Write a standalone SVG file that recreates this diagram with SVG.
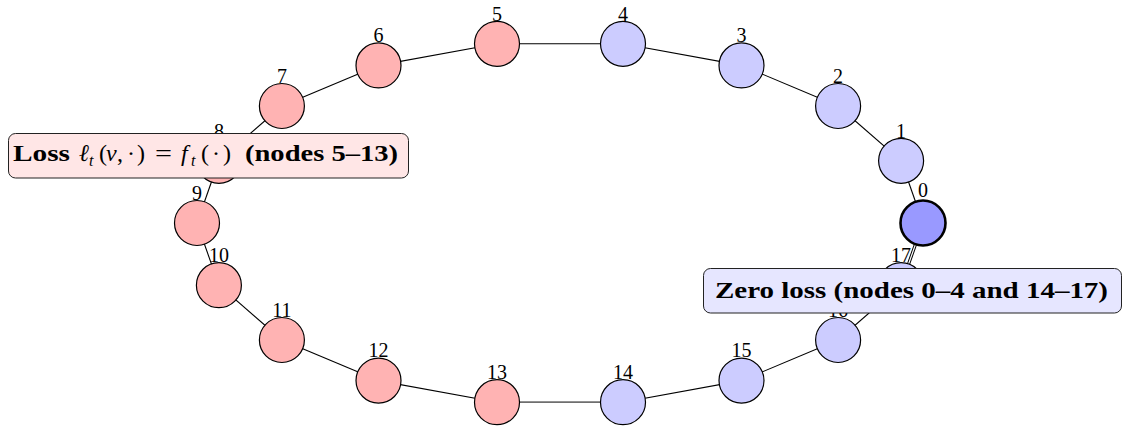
<svg xmlns="http://www.w3.org/2000/svg" width="1127" height="426" viewBox="0 0 1127 426">
<style>
.e{stroke:#000;stroke-width:1.1;fill:none}
.r{fill:#ffb3b3;stroke:#000;stroke-width:1.2}
.b{fill:#ccccff;stroke:#000;stroke-width:1.2}
.lb{font-family:"Liberation Serif","DejaVu Serif",serif;font-size:20px;text-anchor:middle;fill:#000}
.bx{font-family:"Liberation Serif","DejaVu Serif",serif;font-size:24px;fill:#000}
.bd{font-weight:bold}
.it{font-style:italic}
.sb{font-size:16px;font-style:italic}
</style>
<rect width="1127" height="426" fill="#fff"/>
<g id="edges">
<line class="e" x1="923" y1="223" x2="901.1" y2="160.8"/>
<line class="e" x1="901.1" y1="160.8" x2="838.1" y2="106"/>
<line class="e" x1="838.1" y1="106" x2="741.5" y2="65.4"/>
<line class="e" x1="741.5" y1="65.4" x2="623" y2="43.8"/>
<line class="e" x1="623" y1="43.8" x2="497" y2="43.8"/>
<line class="e" x1="497" y1="43.8" x2="378.5" y2="65.4"/>
<line class="e" x1="378.5" y1="65.4" x2="281.9" y2="106"/>
<line class="e" x1="281.9" y1="106" x2="218.9" y2="160.8"/>
<line class="e" x1="218.9" y1="160.8" x2="197" y2="223"/>
<line class="e" x1="197" y1="223" x2="218.9" y2="285.2"/>
<line class="e" x1="218.9" y1="285.2" x2="281.9" y2="340"/>
<line class="e" x1="281.9" y1="340" x2="378.5" y2="380.6"/>
<line class="e" x1="378.5" y1="380.6" x2="497" y2="402.2"/>
<line x1="497" y1="402.2" x2="623" y2="402.2" stroke="#6e6e6e" stroke-width="1.8"/>
<line class="e" x1="623" y1="402.2" x2="741.5" y2="380.6"/>
<line class="e" x1="741.5" y1="380.6" x2="838.1" y2="340"/>
<line class="e" x1="838.1" y1="340" x2="901.1" y2="285.2"/>
<line x1="901.1" y1="285.2" x2="923" y2="223" stroke="#000" stroke-width="3.2"/>
<line x1="901.1" y1="285.2" x2="923" y2="223" stroke="#fff" stroke-width="1.2"/>
</g>
<g id="n0"><circle cx="923" cy="223" r="22.5" fill="#9999ff" stroke="#000" stroke-width="2.6"/><text class="lb" x="923" y="197">0</text></g>
<g id="n1"><circle class="b" cx="901.1" cy="160.8" r="22.5"/><text class="lb" x="901.1" y="137.5">1</text></g>
<g id="n2"><circle class="b" cx="838.1" cy="106" r="22.5"/><text class="lb" x="838.1" y="82.7">2</text></g>
<g id="n3"><circle class="b" cx="741.5" cy="65.4" r="22.5"/><text class="lb" x="741.5" y="42.1">3</text></g>
<g id="n4"><circle class="b" cx="623" cy="43.8" r="22.5"/><text class="lb" x="623" y="20.5">4</text></g>
<g id="n5"><circle class="r" cx="497" cy="43.8" r="22.5"/><text class="lb" x="497" y="20.5">5</text></g>
<g id="n6"><circle class="r" cx="378.5" cy="65.4" r="22.5"/><text class="lb" x="378.5" y="42.1">6</text></g>
<g id="n7"><circle class="r" cx="281.9" cy="106" r="22.5"/><text class="lb" x="281.9" y="82.7">7</text></g>
<g id="n8"><circle class="r" cx="218.9" cy="160.8" r="22.5"/><text class="lb" x="218.9" y="137.5">8</text></g>
<g id="n9"><circle class="r" cx="197" cy="223" r="22.5"/><text class="lb" x="197" y="199.7">9</text></g>
<g id="n10"><circle class="r" cx="218.9" cy="285.2" r="22.5"/><text class="lb" x="218.9" y="261.9">10</text></g>
<g id="n11"><circle class="r" cx="281.9" cy="340" r="22.5"/><text class="lb" x="281.9" y="316.7">11</text></g>
<g id="n12"><circle class="r" cx="378.5" cy="380.6" r="22.5"/><text class="lb" x="378.5" y="357.3">12</text></g>
<g id="n13"><circle class="r" cx="497" cy="402.2" r="22.5"/><text class="lb" x="497" y="378.9">13</text></g>
<g id="n14"><circle class="b" cx="623" cy="402.2" r="22.5"/><text class="lb" x="623" y="378.9">14</text></g>
<g id="n15"><circle class="b" cx="741.5" cy="380.6" r="22.5"/><text class="lb" x="741.5" y="357.3">15</text></g>
<g id="n16"><circle class="b" cx="838.1" cy="340" r="22.5"/><text class="lb" x="838.1" y="316.7">16</text></g>
<g id="n17"><circle class="b" cx="901.1" cy="285.2" r="22.5"/><text class="lb" x="901.1" y="261.9">17</text></g>
<g id="loss-box">
<rect x="8.5" y="133.5" width="400" height="44.5" rx="7" fill="#ffe6e6" stroke="#222" stroke-width="1"/>
<text class="bx bd" x="13" y="161" textLength="57" lengthAdjust="spacingAndGlyphs">Loss</text>
<text class="bx it" x="79" y="161">ℓ</text>
<text class="bx sb" x="89" y="166">t</text>
<text class="bx" x="99" y="161">(</text>
<text class="bx it" x="106" y="161">v</text>
<text class="bx" x="117" y="161">,</text>
<text class="bx" x="127" y="161">·</text>
<text class="bx" x="137" y="161">)</text>
<text class="bx" x="155" y="161" textLength="17" lengthAdjust="spacingAndGlyphs">=</text>
<text class="bx it" x="181" y="161">f</text>
<text class="bx sb" x="191" y="166">t</text>
<text class="bx" x="201" y="161" textLength="30" lengthAdjust="spacing">(·)</text>
<text class="bx bd" x="245" y="161" textLength="153" lengthAdjust="spacingAndGlyphs">(nodes 5–13)</text>
</g>
<g id="zero-box">
<rect x="703.5" y="268.5" width="418" height="44.5" rx="7" fill="#e6e6ff" stroke="#222" stroke-width="1"/>
<text class="bx bd" x="715" y="298" textLength="393" lengthAdjust="spacingAndGlyphs">Zero loss (nodes 0–4 and 14–17)</text>
</g>
</svg>
